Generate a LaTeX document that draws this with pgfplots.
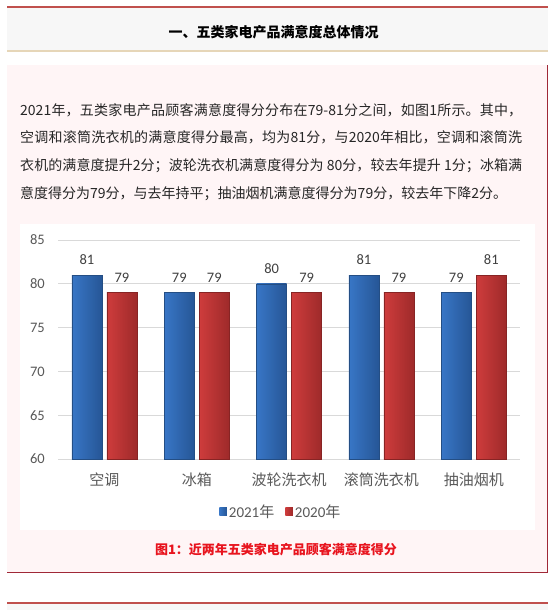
\documentclass[border=0pt]{standalone}
\usepackage{fontspec}
\usepackage{pgfplots}
\pgfplotsset{compat=1.18}
\setmainfont{Noto Sans CJK SC}
\newfontfamily\cjk{Noto Sans CJK SC}
\newfontfamily\lat{Carlito}
\XeTeXlinebreaklocale "zh"
\XeTeXlinebreakskip=0pt plus 1.5pt minus 0.2pt
\definecolor{topred}{RGB}{192,80,77}
\definecolor{hdrgray}{RGB}{247,247,247}
\definecolor{tanline}{RGB}{230,214,184}
\definecolor{pinkbg}{RGB}{255,245,246}
\definecolor{boxred}{RGB}{160,40,55}
\definecolor{txt}{RGB}{38,38,38}
\definecolor{labgray}{RGB}{89,89,89}
\definecolor{valgray}{RGB}{64,64,64}
\definecolor{gridgray}{RGB}{217,217,217}
\definecolor{capred}{RGB}{232,20,30}
\definecolor{blueL}{RGB}{56,118,198}
\definecolor{blueM}{RGB}{66,132,212}
\definecolor{blueR}{RGB}{38,86,150}
\definecolor{blueE}{RGB}{36,78,132}
\definecolor{redL}{RGB}{206,60,60}
\definecolor{redM}{RGB}{220,74,74}
\definecolor{redR}{RGB}{158,42,42}
\definecolor{redE}{RGB}{135,36,36}
\newcommand\pline[2]{\node[anchor=base west, inner sep=0, text=txt] at (20,-#1) {\parbox[t]{502pt}{\fontsize{14}{16}\selectfont\tolerance=10000\parfillskip=0pt\relax #2}};}
\pgfplotsset{
  bb/.style={draw=blueE, line width=0.4pt, left color=blueL, middle color=blueM, right color=blueR, bar shift=-17.5pt},
  rb/.style={draw=redE, line width=0.4pt, left color=redL, middle color=redM, right color=redR, bar shift=17.5pt},
}
\begin{document}
\begin{tikzpicture}[x=1pt,y=1pt]
\fill[white] (0,0) rectangle (555,-610);
\path[use as bounding box] (0,0) rectangle (555,-610);
% header
\fill[topred] (7,-6.3) rectangle (548,-8.3);
\fill[hdrgray] (7,-8.3) rectangle (548,-50.5);
\fill[tanline] (7,-50.5) rectangle (548,-52.5);
\node[anchor=base, inner sep=0, font=\bfseries\fontsize{14}{14}\selectfont] at (273.5,-37.3) {一、五类家电产品满意度总体情况};
% pink box
\fill[pinkbg] (7,-65) rectangle (547.5,-572.5);
\draw[boxred, line width=1.3] (7,-572.5) -- (547.5,-572.5) -- (547.5,-65.5);
% paragraph
\pline{115.3}{2021年，五类家电产品顾客满意度得分分布在79-81分之间，如图1所示。其中，}
\pline{142}{空调和滚筒洗衣机的满意度得分最高，均为81分，与2020年相比，空调和滚筒洗}
\pline{170.3}{衣机的满意度提升2分；波轮洗衣机满意度得分为 80分，较去年提升 1分；冰箱满}
\node[anchor=base west, inner sep=0, text=txt, font=\fontsize{14}{16}\selectfont] at (20,-198) {意度得分为79分，与去年持平；抽油烟机满意度得分为79分，较去年下降2分。};
% chart area
\fill[white] (20,-224) rectangle (535,-530);
\begin{axis}[
  at={(58.3pt,-459.3pt)}, anchor=south west,
  width=461.7pt, height=219.3pt, scale only axis,
  xmin=-0.5, xmax=4.5, ymin=60, ymax=85,
  ytick={60,65,70,75,80,85},
  xtick={0,1,2,3,4},
  xticklabels={空调,冰箱,波轮洗衣机,滚筒洗衣机,抽油烟机},
  ymajorgrids, grid style={gridgray, line width=0.8pt},
  axis line style={draw=none},
  major tick length=0pt,
  ybar, bar width=30pt,
  /pgf/number format/assume math mode=true,
  y tick label style={font=\lat\fontsize{14.5}{14.5}\selectfont, text=labgray, anchor=base east, inner sep=0pt, xshift=-13.3pt, yshift=-4.6pt},
  x tick label style={font=\cjk\fontsize{15}{15}\selectfont, text=labgray, anchor=base, inner sep=0pt, yshift=-26.4pt},
  nodes near coords,
  nodes near coords style={font=\lat\fontsize{14.5}{14.5}\selectfont, text=valgray, anchor=base, inner sep=0pt, yshift=10.5pt},
  legend style={at={(0.482,-0.239)}, anchor=center, draw=none, fill=none, legend columns=2,
     font=\fontsize{15}{15}\selectfont, text=labgray,
     /tikz/every even column/.append style={column sep=9pt}},
  legend image code/.code={\path[#1, draw=none] (0pt,-3.8pt) rectangle (7.6pt,3.8pt);},
]
% 2021
\addplot[bb] coordinates {(0,81)};
% 2020
\addplot[rb] coordinates {(0,79)};
\addplot[bb, forget plot] coordinates {(1,79)};
\addplot[bb, forget plot] coordinates {(2,80)};
\addplot[bb, forget plot] coordinates {(3,81)};
\addplot[bb, forget plot] coordinates {(4,79)};
\addplot[rb, forget plot] coordinates {(1,79)};
\addplot[rb, forget plot] coordinates {(2,79)};
\addplot[rb, forget plot] coordinates {(3,79)};
\addplot[rb, forget plot] coordinates {(4,81)};
\legend{{\lat 2021}{\cjk 年},{\lat 2020}{\cjk 年}}
\end{axis}
% caption
\node[anchor=base, inner sep=0, text=capred, font=\bfseries\fontsize{13}{13}\selectfont] at (276,-554) {图1：近两年五类家电产品顾客满意度得分};
% bottom
\fill[topred] (7,-601.7) rectangle (548,-603.7);
\fill[hdrgray] (7,-603.7) rectangle (548,-610);
\end{tikzpicture}
\end{document}
